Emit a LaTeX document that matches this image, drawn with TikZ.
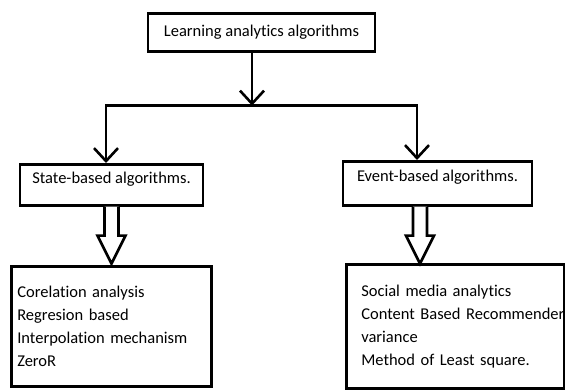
\documentclass[tikz,border=0pt]{standalone}
\usepackage{fontspec}
\setmainfont{Carlito}[Ligatures=NoCommon]
\usetikzlibrary{arrows.meta, positioning, calc}
\hbadness=10000
\hfuzz=100pt
\tikzset{
    box/.style={rectangle, draw, line width=2.6pt, inner ysep=0pt, inner xsep=6pt, font=\fontsize{16.5}{23}\selectfont},
    head_box/.style={box, text height=20pt, text depth=22pt},
    list_box/.style={box, align=left, anchor=north west},
    tree/.style={line width=2.6pt, -{Straight Barb[length=13pt, width=24pt]}},
    hollow/.style={line width=2.6pt, fill=white, line join=miter}
}

\begin{document}
\begin{tikzpicture}[x=1pt, y=-1pt]
    \useasboundingbox (0,0) rectangle (565,389);

    \node (top) [box, anchor=north, minimum width=227pt, text height=23pt, text depth=15pt] at (261.5,12) {Learning analytics algorithms};

    % second level
    \node (state) [head_box, anchor=north, minimum width=183pt, text height=19pt] at (111.5,163) {State-based algorithms.};
    \node (event) [head_box, anchor=north, minimum width=189pt, text depth=24pt] at (437.5,160) {Event-based algorithms.};

    % split towards both groups
    \coordinate (split) at ($(top.south)+(-9.5,53)$);
    \draw [tree] ([xshift=-9.5pt]top.south) -- (split);
    \draw [tree] (split) -| ([xshift=-5.5pt]state.north);
    \draw [tree] (split) -| ([xshift=-20.5pt]event.north);

    % algorithm lists
    \node (state_algs) [list_box, text width=188pt, minimum height=120pt] at (10,265) {Corelation analysis\\Regresion based\\Interpolation mechanism\\ZeroR};
    \node (event_algs) [list_box, inner xsep=15pt, text width=188pt, minimum width=218pt, minimum height=124pt] at (345,263) {Social media analytics\\\mbox{Content Based Recommender}\\variance\\Method of Least square.};

    % hollow arrows
    \draw [hollow] ($(state.south)+(-7,0)$) -- ++(0,29) -- ++(-7,0) -- ++(14,28) -- ++(14,-28) -- ++(-7,0) -- ++(0,-29);
    \draw [hollow] ($(event.south)+(-24.5,0)$) -- ++(0,29) -- ++(-7,0) -- ++(14,28) -- ++(14,-28) -- ++(-7,0) -- ++(0,-29);
\end{tikzpicture}
\end{document}
